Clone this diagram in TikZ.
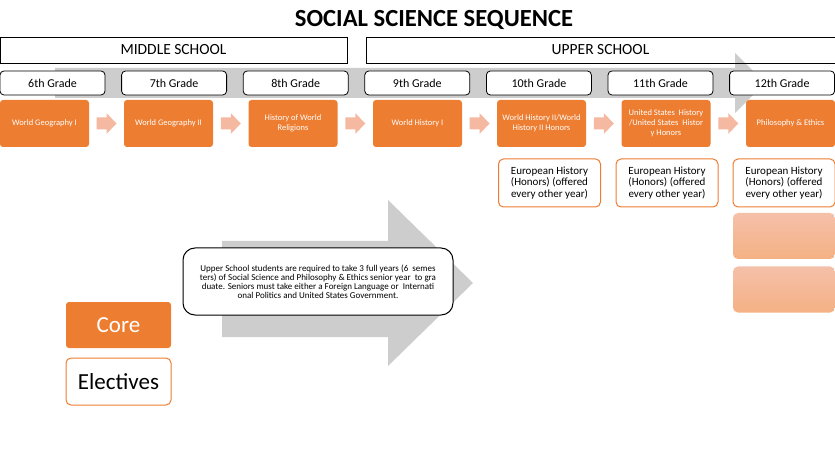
\documentclass[tikz,border=0pt]{standalone}
\usepackage{fontspec}
\setmainfont{Carlito}
\usetikzlibrary{positioning,calc}
\definecolor{corange}{HTML}{ED7D31}
\definecolor{cpink}{HTML}{F4B9A0}
\definecolor{cgray}{HTML}{CDCDCD}
\tikzset{
  levelbox/.style = {draw, line width=0.8pt, rectangle, minimum height=26pt,
                     inner sep=0pt, font=\fontsize{15.5}{18}\selectfont},
  gradebox/.style = {draw, line width=0.8pt, rounded corners=4pt, fill=white,
                     minimum width=105pt, minimum height=24pt, inner sep=0pt,
                     font=\fontsize{12}{14}\selectfont},
  corebox/.style  = {fill=corange, rounded corners=3pt, text=white, align=center,
                     minimum width=89pt, minimum height=47pt, inner sep=1pt,
                     font=\fontsize{8.5}{10}\selectfont},
  elecbox/.style  = {draw=corange, line width=1pt, fill=white, rounded corners=5pt,
                     minimum width=102pt, minimum height=48pt, inner sep=1pt,
                     align=center, font=\fontsize{11}{11.8}\selectfont},
  pinkbox/.style  = {rounded corners=5pt, top color=cpink!90, bottom color=corange!60,
                     minimum width=102pt, minimum height=46pt},
  notebox/.style  = {draw, line width=1pt, fill=white, rounded corners=12pt,
                     minimum width=270pt, minimum height=67pt, align=center,
                     font=\fontsize{9}{8.9}\selectfont},
  stepper/.pic    = {\fill[cpink] (-10,-6) -- (0,-6) -- (0,-10.5) -- (10,0)
                     -- (0,10.5) -- (0,6) -- (-10,6) -- cycle;},
}
\begin{document}
\begin{tikzpicture}[x=1pt,y=-1pt]
\useasboundingbox (0,0) rectangle (835,470);
% grey arrows in the back
\fill[cgray] (55,68) -- (735,68) -- (735,53) -- (765,83) -- (735,113)
  -- (735,98) -- (55,98) -- cycle;
\fill[cgray] (222,241) -- (388,241) -- (388,200) -- (473,283) -- (388,366)
  -- (388,337) -- (222,337) -- cycle;
\node[font=\fontsize{24.6}{27}\bfseries] (title) at (434,20) {SOCIAL SCIENCE SEQUENCE};
\node[levelbox, minimum width=347pt] (ms) at (173.5,50) {MIDDLE SCHOOL};
\node[levelbox, minimum width=469pt] (us) at (600.5,50) {UPPER SCHOOL};
\foreach \i/\lab in {0/6th,1/7th,2/8th,3/9th,4/10th,5/11th,6/12th}
  \node[gradebox] (g\i) at ({52.5+121.6*\i},83) {\lab\ Grade};
% core courses
\node[corebox] (o0) at (44.5,123.5) {World Geography I};
\node[corebox] (o1) at (168.5,123.5) {World Geography II};
\node[corebox] (o2) at (293,123.5) {History of World\\Religions};
\node[corebox] (o3) at (417.5,123.5) {World History I};
\node[corebox] (o4) at (541.5,123.5) {World History II/World\\History II Honors};
\node[corebox] (o5) at (666,123.5) {United States\ \ History\\/United States\ \ Histor\\y Honors};
\node[corebox] (o6) at (790.5,123.5) {Philosophy \& Ethics};
\foreach \i in {0,...,5}{
  \pgfmathtruncatemacro\j{\i+1}
  \pic at ($(o\i.east)!0.5!(o\j.west)$) {stepper};
}
% electives
\node[elecbox] (e4) at (549.5,183) {European History\\(Honors) (offered\\every other year)};
\node[elecbox] (e5) at (667,183) {European History\\(Honors) (offered\\every other year)};
\node[elecbox] (e6) at (784,183) {European History\\(Honors) (offered\\every other year)};
\node[pinkbox] (p1) at (784,236) {};
\node[pinkbox] (p2) at (784,289.5) {};
\node[notebox] (note) at (318,281.5) {Upper School students are required to take 3 full years (6\ \ semes\\
  ters) of Social Science and Philosophy \& Ethics senior year\ \ to gra\\
  duate. Seniors must take either a Foreign Language or\ \ Internati\\
  onal Politics and United States Government.};
% legend
\node[corebox, minimum width=105pt, minimum height=46pt, font=\fontsize{23}{26}\selectfont] (core) at (118.5,325) {Core};
\node[elecbox, minimum width=105pt, minimum height=47pt, font=\fontsize{23}{26}\selectfont] (elec) at (118.5,381.5) {Electives};
\end{tikzpicture}
\end{document}
